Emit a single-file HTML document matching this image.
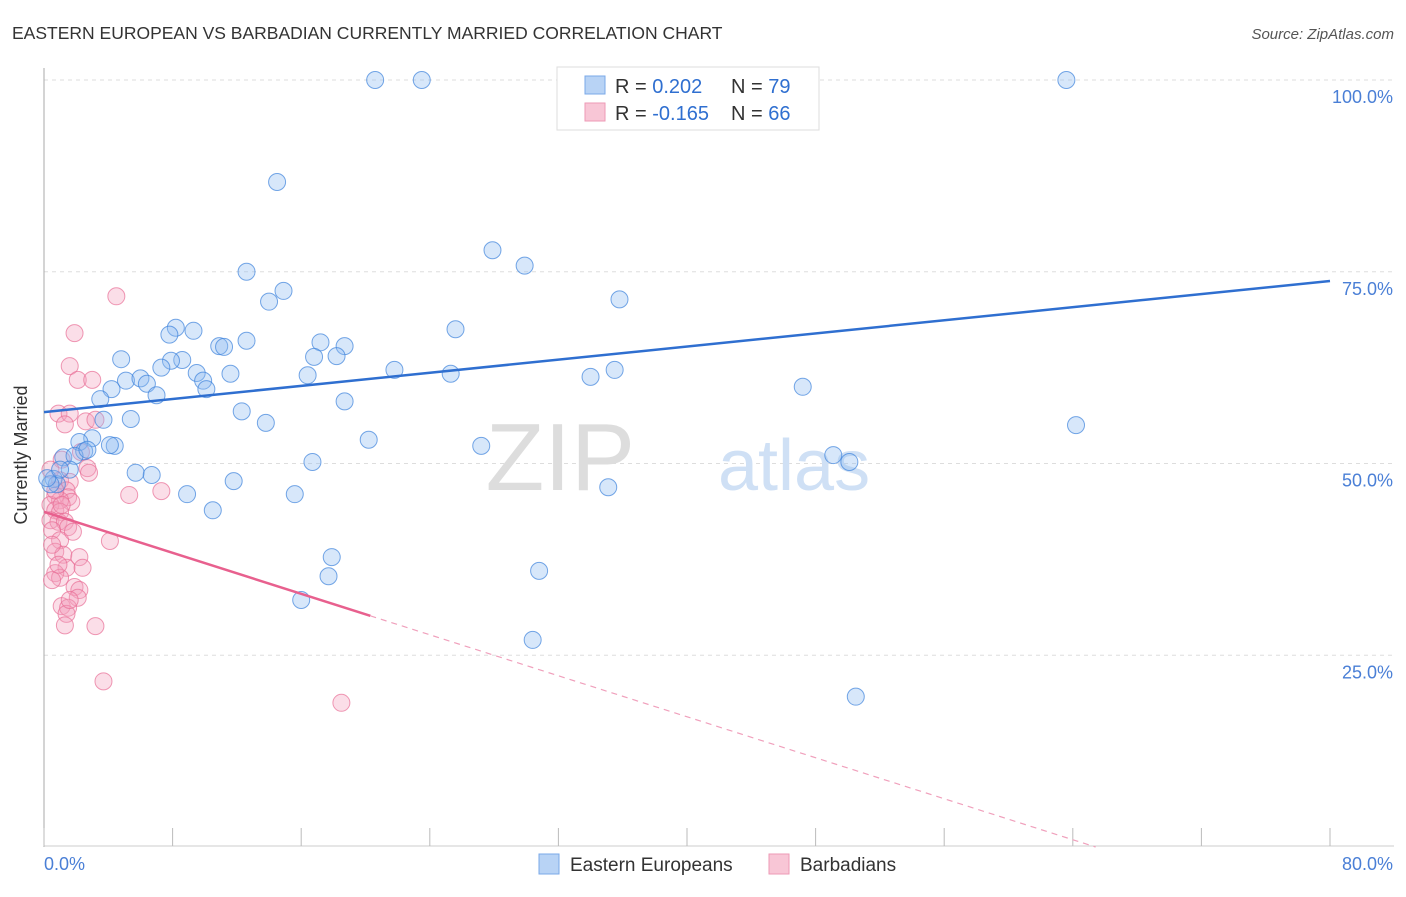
<!DOCTYPE html>
<html><head><meta charset="utf-8"><style>
body{margin:0;background:#fff;font-family:"Liberation Sans",sans-serif;}
svg text{font-family:"Liberation Sans",sans-serif;}
</style></head><body>
<svg id="chart" width="1406" height="892">
<text x="12" y="39" font-size="17.5" fill="#333">EASTERN EUROPEAN VS BARBADIAN CURRENTLY MARRIED CORRELATION CHART</text>
<text x="1394" y="39" font-size="15" fill="#555" font-style="italic" text-anchor="end">Source: ZipAtlas.com</text>
<g id="grid"></g>
<text x="635" y="490" font-size="96" font-family="Liberation Serif" fill="#ddd" text-anchor="end">ZIP</text>
<text x="718" y="490" font-size="72" fill="#cfe0f5">atlas</text>
<g id="axes"></g>
<g id="pts"></g>
<g id="lines"></g>
<text x="27" y="455" font-size="18" fill="#333" text-anchor="middle" transform="rotate(-90 27 455)">Currently Married</text>
<g>
<rect x="557" y="67" width="262" height="63" fill="#fff" stroke="#ddd"/>
<rect x="585" y="76" width="20" height="18" fill="#b8d3f5" stroke="#7aa8e8"/>
<rect x="585" y="103" width="20" height="18" fill="#f8c6d6" stroke="#ee9ab6"/>
<text x="615" y="93" font-size="20" fill="#333">R = <tspan fill="#2f6fd0">0.202</tspan></text>
<text x="731" y="93" font-size="20" fill="#333">N = <tspan fill="#2f6fd0">79</tspan></text>
<text x="615" y="120" font-size="20" fill="#333">R = <tspan fill="#2f6fd0">-0.165</tspan></text>
<text x="731" y="120" font-size="20" fill="#333">N = <tspan fill="#2f6fd0">66</tspan></text>
</g>
<g>
<rect x="539" y="854" width="20" height="20" fill="#b8d3f5" stroke="#7aa8e8"/>
<text x="570" y="871" font-size="19" fill="#333">Eastern Europeans</text>
<rect x="769" y="854" width="20" height="20" fill="#f8c6d6" stroke="#ee9ab6"/>
<text x="800" y="871" font-size="19" fill="#333">Barbadians</text>
</g>
</svg>
<script>
const blueX=[20.6,23.5,63.6,14.5,27.9,29.9,12.6,14.9,14.0,35.8,8.2,9.3,7.8,25.6,10.9,11.2,12.6,17.2,18.7,16.8,18.2,4.8,8.6,7.9,7.3,9.5,11.6,16.4,21.8,25.3,34.0,35.5,47.2,5.1,6.0,6.4,9.9,10.1,4.2,7.0,3.5,18.7,12.3,3.7,5.4,13.8,64.2,20.2,3.0,2.2,4.4,27.2,2.5,1.2,1.9,49.1,50.1,16.7,1.6,5.7,6.7,11.8,0.6,0.8,8.9,15.6,35.1,10.5,17.9,17.7,30.8,16.0,30.4,50.5,0.4,0.2,1.0,2.7,4.1];
const blueY=[100,100,100,86.7,77.8,75.8,75.0,72.5,71.1,71.4,67.7,67.3,66.8,67.5,65.3,65.2,66.0,65.8,65.3,63.9,64.0,63.6,63.5,63.4,62.5,61.8,61.7,61.5,62.2,61.7,61.3,62.2,60.0,60.8,61.1,60.4,60.8,59.7,59.7,58.9,58.4,58.1,56.8,55.7,55.8,55.3,55.0,53.1,53.3,52.8,52.3,52.3,51.6,50.8,51.0,51.1,50.2,50.2,49.2,48.8,48.5,47.7,48.0,47.3,46.0,46.0,46.9,43.9,37.8,35.3,36.0,32.2,27.0,19.6,47.3,48.1,49.2,51.8,52.4];
const pinkX=[4.5,1.9,1.6,2.1,3.0,0.9,1.6,1.3,2.6,3.2,2.3,2.7,2.8,1.0,1.6,1.4,1.5,1.7,0.7,1.0,5.3,7.3,0.4,0.7,1.0,0.4,0.9,1.3,1.5,0.5,1.0,4.1,0.7,1.2,2.2,1.4,2.4,0.7,1.0,0.5,1.9,2.2,2.1,1.1,1.5,1.4,1.3,3.2,3.7,18.5,0.7,1.1,0.4,1.8,0.9,1.6,0.5,1.1];
const pinkY=[71.8,67.0,62.7,60.9,60.9,56.5,56.5,55.1,55.5,55.7,51.5,49.4,48.8,47.8,47.6,46.5,45.6,45.0,45.8,45.2,45.9,46.4,44.6,43.9,43.7,42.6,42.4,42.4,41.7,41.3,40.0,39.9,38.5,38.1,37.8,36.4,36.4,35.7,35.1,34.8,33.9,33.5,32.5,31.4,31.2,30.4,28.9,28.8,21.6,18.8,46.5,50.5,49.2,41.1,36.8,32.2,39.4,44.6];
const blueTrend=[56.7,73.8];
const pinkTrend=[43.7,-0.668];
const yTicks=[25,50,75,100];
const xTicks=[0,8,16,24,32,40,48,56,64,72,80];
const NS="http://www.w3.org/2000/svg";
const sx=v=>44+v*16.075, sy=v=>847-v*7.67;
function mk(p,t,a){const e=document.createElementNS(NS,t);for(const k in a)e.setAttribute(k,a[k]);p.appendChild(e);return e;}
const grid=document.getElementById('grid'),axes=document.getElementById('axes'),pts=document.getElementById('pts'),lines=document.getElementById('lines');
yTicks.forEach(t=>{
 const l=mk(grid,'line',{x1:44,x2:1394,y1:sy(t),y2:sy(t),stroke:'#ddd','stroke-dasharray':'4,4'});
 
 
 const tx=mk(axes,'text',{x:1393,y:sy(t)+23,'font-size':18,fill:'#4a7fd6','text-anchor':'end'});tx.textContent=t.toFixed(1)+'%';
 
 
});
mk(axes,'line',{x1:44,x2:44,y1:68,y2:847,stroke:'#aaa'});
mk(axes,'line',{x1:44,x2:1394,y1:846,y2:846,stroke:'#ccc'});
xTicks.forEach(t=>{const l=mk(axes,'line',{x1:sx(t),x2:sx(t),y1:828,y2:846,stroke:'#bbb'});
 
 });
const xl=mk(axes,'text',{x:44,y:870,'font-size':18,fill:'#4a7fd6'});xl.textContent='0.0%';


const xr=mk(axes,'text',{x:1393,y:870,'font-size':18,fill:'#4a7fd6','text-anchor':'end'});xr.textContent='80.0%';


pinkX.forEach((x,i)=>{const c=mk(pts,'circle',{cx:sx(x),cy:sy(pinkY[i]),r:8.5,fill:'rgba(244,160,188,0.35)',stroke:'rgba(232,110,150,0.7)','stroke-width':1});
 
 });
blueX.forEach((x,i)=>{const c=mk(pts,'circle',{cx:sx(x),cy:sy(blueY[i]),r:8.5,fill:'rgba(140,185,240,0.35)',stroke:'rgba(60,130,220,0.7)','stroke-width':1});
 
 });
const bl=mk(lines,'line',{x1:sx(0),y1:sy(blueTrend[0]),x2:sx(80),y2:sy(blueTrend[1]),stroke:'#2f6fd0','stroke-width':2.5});


const pEnd=20.3, pZero=-pinkTrend[0]/pinkTrend[1];
const pl=mk(lines,'line',{x1:sx(0),y1:sy(pinkTrend[0]),x2:sx(pEnd),y2:sy(pinkTrend[0]+pinkTrend[1]*pEnd),stroke:'#e8608e','stroke-width':2.5});


const pd=mk(lines,'line',{x1:sx(pEnd),y1:sy(pinkTrend[0]+pinkTrend[1]*pEnd),x2:sx(pZero),y2:sy(0),stroke:'#f0a0bc','stroke-width':1.2,'stroke-dasharray':'6,5'});


</script>
</body></html>
